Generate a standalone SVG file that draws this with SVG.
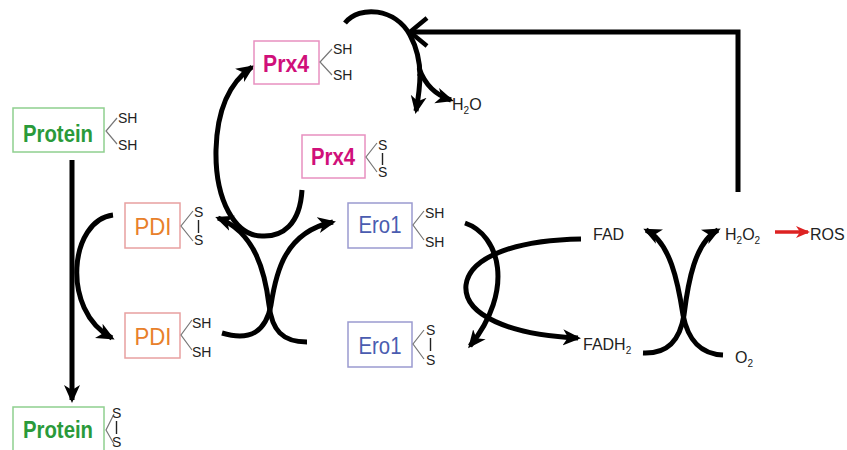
<svg xmlns="http://www.w3.org/2000/svg" width="847" height="450" viewBox="0 0 847 450">
  <style>
    .box { fill: #ffffff; stroke-width: 1.5; }
    .lbl { font-family: "Liberation Sans", Arial, sans-serif; font-size: 24px; text-anchor: middle; }
    .b { font-weight: bold; }
    .tag { font-family: "Liberation Sans", Arial, sans-serif; font-size: 14px; fill: #222; }
    .chem { font-family: "Liberation Sans", Arial, sans-serif; font-size: 16px; fill: #222; }
    .bond { fill: none; stroke: #777; stroke-width: 1.2; }
    .ss { stroke: #222; stroke-width: 1.4; }
    .flow { fill: none; stroke: #000; stroke-width: 5; }
    .protein rect { stroke: #8fcf8f; }
    .protein text.lbl { fill: #2a9a3a; }
    .pdi rect { stroke: #e8a0a0; }
    .pdi text.lbl { fill: #e8802a; }
    .prx rect { stroke: #e890c0; }
    .prx text.lbl { fill: #d0107a; }
    .ero rect { stroke: #9a9ad0; }
    .ero text.lbl { fill: #4a5cb0; }
  </style>
  <defs>
    <marker id="head" markerUnits="userSpaceOnUse" markerWidth="18" markerHeight="18" viewBox="0 0 18 18" refX="15" refY="9" orient="auto">
      <path d="M0,1 L18,9 L0,17 L5,9 z" fill="#000"/>
    </marker>
    <marker id="headRed" markerUnits="userSpaceOnUse" markerWidth="14" markerHeight="14" viewBox="0 0 14 14" refX="12" refY="7" orient="auto">
      <path d="M0,1 L14,7 L0,13 L4,7 z" fill="#dd2222"/>
    </marker>
    <marker id="open" markerUnits="userSpaceOnUse" markerWidth="24" markerHeight="36" viewBox="0 0 24 36" refX="20" refY="18" orient="auto">
      <path d="M3,4 L20,18 L3,32" fill="none" stroke="#000" stroke-width="4.5"/>
    </marker>
  </defs>

  <!-- connectors -->
  <g id="connectors">
    <!-- protein oxidation -->
    <line class="flow" x1="72" y1="160" x2="72" y2="400" stroke-width="4.5" marker-end="url(#head)"/>
    <!-- PDI reduction arc -->
    <path class="flow" d="M113,215 C70,220 60,310 112,338" marker-end="url(#head)"/>
    <!-- PDI / Ero1 exchange -->
    <path class="flow" d="M222,333 C252,342 266,330 271,305 C276,272 285,232 333,222" marker-end="url(#head)"/>
    <path class="flow" d="M307,342 C282,342 272,330 269,305 C265,272 255,232 218,218" marker-end="url(#head)"/>
    <!-- Prx4 regeneration -->
    <path class="flow" d="M302,190 C300,225 282,237 262,236 C235,236 215,200 216,150 C217,110 230,82 252,67" marker-end="url(#head)"/>
    <!-- Prx4 peroxide reduction -->
    <path class="flow" d="M345,23 C360,5 395,8 410,35 C418,50 420,62 420,76"/>
    <path class="flow" d="M420,74 C420,88 418,100 416,111" marker-end="url(#head)"/>
    <path class="flow" d="M419,68 C425,85 435,95 451,100" marker-end="url(#head)"/>
    <!-- H2O2 feedback -->
    <polyline class="flow" points="738,192 738,32 410,32" marker-end="url(#open)"/>
    <!-- Ero1 / FAD exchange -->
    <path class="flow" d="M465,223 C500,235 515,290 470,346" marker-end="url(#head)"/>
    <path class="flow" d="M581,239 C520,240 470,255 466,285 C463,315 510,335 578,338" marker-end="url(#head)"/>
    <!-- FAD / O2 exchange -->
    <path class="flow" d="M643,353 C668,354 680,340 684,315 C688,282 695,242 718,230" marker-end="url(#head)"/>
    <path class="flow" d="M723,355 C700,354 688,340 683,315 C678,282 670,242 646,230" marker-end="url(#head)"/>
    <!-- ROS -->
    <line x1="775" y1="232" x2="808" y2="232" stroke="#dd2222" stroke-width="3.5" marker-end="url(#headRed)"/>
  </g>

  <!-- Protein, reduced -->
  <g id="protein-red" class="protein">
    <rect class="box" x="13" y="108" width="91" height="44"/>
    <text class="lbl b" x="58" y="142" textLength="70" lengthAdjust="spacingAndGlyphs">Protein</text>
    <polyline class="bond" points="117,118 106,131 117,144"/>
    <text class="tag" x="118" y="123">SH</text>
    <text class="tag" x="118" y="150">SH</text>
  </g>

  <!-- Protein, oxidized -->
  <g id="protein-ox" class="protein">
    <rect class="box" x="13" y="407" width="91" height="52"/>
    <text class="lbl b" x="58" y="438" textLength="70" lengthAdjust="spacingAndGlyphs">Protein</text>
    <polyline class="bond" points="114,414 106,430 114,444"/>
    <text class="tag" x="112" y="418">S</text>
    <text class="tag" x="112" y="447">S</text>
    <line class="ss" x1="116.5" y1="421" x2="116.5" y2="434"/>
  </g>

  <!-- PDI, oxidized -->
  <g id="pdi-ox" class="pdi">
    <rect class="box" x="125" y="203" width="55" height="45"/>
    <text class="lbl" x="153" y="235" textLength="37" lengthAdjust="spacingAndGlyphs">PDI</text>
    <polyline class="bond" points="193,211 181,226 193,241"/>
    <text class="tag" x="194" y="217">S</text>
    <text class="tag" x="194" y="245">S</text>
    <line class="ss" x1="198.5" y1="220" x2="198.5" y2="233"/>
  </g>

  <!-- PDI, reduced -->
  <g id="pdi-red" class="pdi">
    <rect class="box" x="125" y="313" width="55" height="45"/>
    <text class="lbl" x="153" y="345" textLength="37" lengthAdjust="spacingAndGlyphs">PDI</text>
    <polyline class="bond" points="192,320 181,335 192,350"/>
    <text class="tag" x="192" y="328">SH</text>
    <text class="tag" x="192" y="357">SH</text>
  </g>

  <!-- Prx4, reduced -->
  <g id="prx4-red" class="prx">
    <rect class="box" x="254" y="41" width="65" height="43"/>
    <text class="lbl b" x="286" y="72" textLength="46" lengthAdjust="spacingAndGlyphs">Prx4</text>
    <polyline class="bond" points="332,49 320,62 332,75"/>
    <text class="tag" x="333" y="54">SH</text>
    <text class="tag" x="333" y="80">SH</text>
  </g>

  <!-- Prx4, oxidized -->
  <g id="prx4-ox" class="prx">
    <rect class="box" x="302" y="135" width="63" height="43"/>
    <text class="lbl b" x="333" y="165" textLength="44" lengthAdjust="spacingAndGlyphs">Prx4</text>
    <polyline class="bond" points="377,143 366,157 377,172"/>
    <text class="tag" x="378" y="150">S</text>
    <text class="tag" x="378" y="177">S</text>
    <line class="ss" x1="382.5" y1="153" x2="382.5" y2="165"/>
  </g>

  <!-- Ero1, reduced -->
  <g id="ero1-red" class="ero">
    <rect class="box" x="348" y="203" width="64" height="45"/>
    <text class="lbl" x="380" y="233" textLength="43" lengthAdjust="spacingAndGlyphs">Ero1</text>
    <polyline class="bond" points="424,211 413,225 424,240"/>
    <text class="tag" x="425" y="218">SH</text>
    <text class="tag" x="425" y="247">SH</text>
  </g>

  <!-- Ero1, oxidized -->
  <g id="ero1-ox" class="ero">
    <rect class="box" x="348" y="322" width="64" height="45"/>
    <text class="lbl" x="380" y="354" textLength="43" lengthAdjust="spacingAndGlyphs">Ero1</text>
    <polyline class="bond" points="424,330 413,344 424,359"/>
    <text class="tag" x="426" y="335">S</text>
    <text class="tag" x="426" y="365">S</text>
    <line class="ss" x1="430.5" y1="338" x2="430.5" y2="351"/>
  </g>

  <!-- small molecules -->
  <g id="h2o"><text class="chem" x="452" y="110">H<tspan font-size="10" dy="4">2</tspan><tspan dy="-4">O</tspan></text></g>
  <g id="fad"><text class="chem" x="593" y="240">FAD</text></g>
  <g id="fadh2"><text class="chem" x="583" y="350">FADH<tspan font-size="10" dy="4">2</tspan></text></g>
  <g id="h2o2"><text class="chem" x="725" y="240">H<tspan font-size="10" dy="4">2</tspan><tspan dy="-4">O</tspan><tspan font-size="10" dy="4">2</tspan></text></g>
  <g id="o2"><text class="chem" x="735" y="363">O<tspan font-size="10" dy="4">2</tspan></text></g>
  <g id="ros"><text class="chem" x="810" y="240" fill="#dd2222">ROS</text></g>
</svg>
